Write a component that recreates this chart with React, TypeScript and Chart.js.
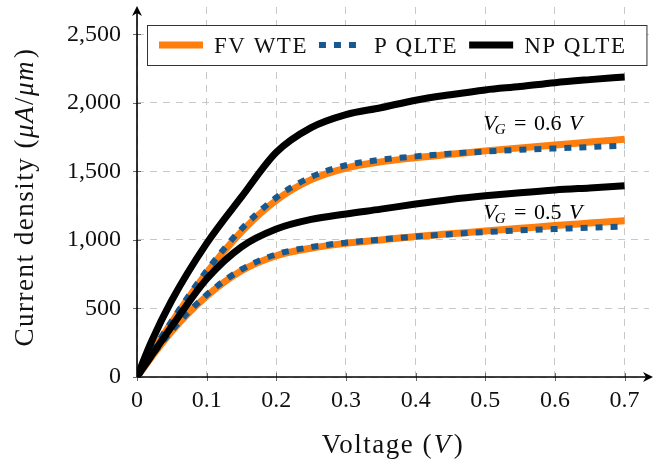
import React, { useEffect, useRef } from 'react';
import { Chart, registerables } from 'chart.js';

Chart.register(...registerables);

// ---- data ----
const VOLTAGE = [0, 0.02, 0.05, 0.1, 0.15, 0.2, 0.25, 0.3, 0.35, 0.4, 0.45, 0.5, 0.55, 0.6, 0.65, 0.7];

const FV_WTE_06 = [0, 165, 400, 760, 1060, 1290, 1440, 1525, 1570, 1600, 1625, 1650, 1672, 1693, 1715, 1735];
const P_QLTE_06 = [0, 170, 410, 775, 1080, 1310, 1460, 1545, 1585, 1610, 1630, 1645, 1658, 1668, 1678, 1688];
const NP_QLTE_06 = [0, 250, 560, 975, 1314, 1640, 1820, 1915, 1965, 2020, 2060, 2095, 2120, 2148, 2170, 2190];

const FV_WTE_05 = [0, 140, 335, 590, 775, 885, 940, 975, 1000, 1025, 1045, 1065, 1085, 1105, 1123, 1141];
const P_QLTE_05 = [0, 145, 340, 600, 785, 895, 948, 980, 1003, 1025, 1042, 1058, 1070, 1080, 1090, 1097];
const NP_QLTE_05 = [0, 150, 370, 715, 950, 1080, 1150, 1190, 1225, 1262, 1295, 1322, 1345, 1365, 1380, 1395];

const X_TICKS = [0, 0.1, 0.2, 0.3, 0.4, 0.5, 0.6, 0.7];
const X_TICK_LABELS = ['0', '0.1', '0.2', '0.3', '0.4', '0.5', '0.6', '0.7'];
const Y_TICKS = [0, 500, 1000, 1500, 2000, 2500];
const Y_TICK_LABELS = ['0', '500', '1,000', '1,500', '2,000', '2,500'];

const SERIES_NAMES = ['FV WTE', 'P QLTE', 'NP QLTE'];
const ANNOT_GATE = ['0.6', '0.5'];
const ANNOT_X = [0.5, 0.5];
const ANNOT_Y = [1805, 1150];

const X_MAX = 0.735;
const Y_MAX = 2700;

const FONT = "'Liberation Serif', 'DejaVu Serif', serif";
const ORANGE = '#ff7f0e';
const BLUE = '#17598f';
const BLACK = '#000000';

const pts = (arr: number[]) => VOLTAGE.map((v, i) => ({ x: v, y: arr[i] }));

type Part = { t: string; f: string; dy?: number; dx?: number };

function drawParts(ctx: any, parts: Part[], x: number, y: number, spacing: string, align: 'left' | 'center') {
  ctx.save();
  ctx.letterSpacing = spacing;
  ctx.textAlign = 'left';
  ctx.textBaseline = 'alphabetic';
  const widths = parts.map((p) => {
    ctx.font = p.f;
    return ctx.measureText(p.t).width + (p.dx || 0);
  });
  const total = widths.reduce((a, b) => a + b, 0);
  let cx = align === 'center' ? x - total / 2 : x;
  parts.forEach((p, i) => {
    ctx.font = p.f;
    ctx.fillText(p.t, cx + (p.dx || 0), y + (p.dy || 0));
    cx += widths[i];
  });
  ctx.restore();
  return total;
}

const overlay = {
  id: 'overlay',
  beforeDatasetsDraw(chart: any) {
    const ctx = chart.ctx;
    const xs = chart.scales.x;
    const ys = chart.scales.y;
    const x0 = xs.getPixelForValue(0);
    const y0 = ys.getPixelForValue(0);
    ctx.save();
    ctx.strokeStyle = '#6a6a6a';
    ctx.lineWidth = 1;
    ctx.beginPath();
    X_TICKS.forEach((v) => {
      const px = Math.round(xs.getPixelForValue(v)) + 0.5;
      ctx.moveTo(px, y0 - 4);
      ctx.lineTo(px, y0 + 4);
    });
    Y_TICKS.forEach((v) => {
      const py = Math.round(ys.getPixelForValue(v)) + 0.5;
      ctx.moveTo(x0 - 4, py);
      ctx.lineTo(x0 + 4, py);
    });
    ctx.stroke();
    ctx.strokeStyle = '#000';
    ctx.fillStyle = '#000';
    ctx.lineWidth = 1.6;
    const xEnd = chart.chartArea.right + 4;
    const yEnd = chart.chartArea.top - 1;
    ctx.beginPath();
    ctx.moveTo(x0, y0);
    ctx.lineTo(xEnd - 3, y0);
    ctx.moveTo(x0, y0);
    ctx.lineTo(x0, yEnd + 3);
    ctx.stroke();
    ctx.beginPath();
    ctx.moveTo(xEnd, y0);
    ctx.lineTo(xEnd - 10, y0 - 5);
    ctx.lineTo(xEnd - 7, y0);
    ctx.lineTo(xEnd - 10, y0 + 5);
    ctx.closePath();
    ctx.fill();
    ctx.beginPath();
    ctx.moveTo(x0, yEnd);
    ctx.lineTo(x0 - 5, yEnd + 10);
    ctx.lineTo(x0, yEnd + 7);
    ctx.lineTo(x0 + 5, yEnd + 10);
    ctx.closePath();
    ctx.fill();
    ctx.restore();
  },
  afterDatasetsDraw(chart: any) {
    const ctx = chart.ctx;
    const xs = chart.scales.x;
    const ys = chart.scales.y;

    ctx.save();
    ctx.fillStyle = '#000';
    ANNOT_GATE.forEach((g, i) => {
      const ax = xs.getPixelForValue(ANNOT_X[i]) - 2;
      const ay = ys.getPixelForValue(ANNOT_Y[i]);
      const it = `italic 22px ${FONT}`;
      const up = `22px ${FONT}`;
      drawParts(ctx, [
        { t: 'V', f: it },
        { t: 'G', f: `italic 15px ${FONT}`, dy: 4, dx: -2 },
        { t: ' = ', f: up, dx: 3 },
        { t: g, f: up, dx: 2 },
        { t: ' ', f: up },
        { t: 'V', f: it, dx: 2 },
      ], ax, ay, '0px', 'left');
    });
    ctx.restore();

    ctx.save();
    const ds = chart.data.datasets.slice(0, 3);
    const legFont = `23px ${FONT}`;
    ctx.font = legFont;
    ctx.letterSpacing = '1.5px';
    const boxL = 147;
    const boxT = 25;
    const boxH = 40;
    const midY = boxT + boxH / 2;
    let cx = boxL + 12;
    const items: any[] = [];
    ds.forEach((d: any, i: number) => {
      const w = ctx.measureText(SERIES_NAMES[i]).width;
      items.push({ d, sx: cx, tx: cx + 55, w });
      cx = cx + 55 + w + 11;
    });
    const boxR = cx + 9;
    ctx.fillStyle = '#fff';
    ctx.fillRect(boxL, boxT, boxR - boxL, boxH);
    ctx.strokeStyle = '#333';
    ctx.lineWidth = 1;
    ctx.strokeRect(boxL + 0.5, boxT + 0.5, boxR - boxL, boxH);
    items.forEach((it: any, i: number) => {
      ctx.save();
      ctx.strokeStyle = it.d.borderColor;
      ctx.lineWidth = it.d.borderWidth;
      ctx.setLineDash(it.d.borderDash || []);
      ctx.beginPath();
      ctx.moveTo(it.sx, midY);
      ctx.lineTo(it.sx + 44, midY);
      ctx.stroke();
      ctx.restore();
      ctx.fillStyle = '#111';
      ctx.textBaseline = 'alphabetic';
      ctx.textAlign = 'left';
      ctx.font = legFont;
      ctx.fillText(SERIES_NAMES[i], it.tx, midY + 7.5);
    });
    ctx.restore();
  },
  afterDraw(chart: any) {
    const ctx = chart.ctx;
    const area = chart.chartArea;
    ctx.save();
    ctx.fillStyle = '#111';
    const up = `27px ${FONT}`;
    const it = `italic 27px ${FONT}`;
    drawParts(ctx, [
      { t: 'Voltage (', f: up },
      { t: 'V', f: it, dx: 1 },
      { t: ')', f: up, dx: 2 },
    ], (area.left + area.right) / 2, 453, '1.5px', 'center');
    ctx.translate(33, 197);
    ctx.rotate(-Math.PI / 2);
    drawParts(ctx, [
      { t: 'Current density (', f: up },
      { t: 'μA', f: it },
      { t: '/', f: up },
      { t: 'μm', f: it },
      { t: ')', f: up, dx: 2 },
    ], 0, 0, '1.5px', 'center');
    ctx.restore();
  },
};

function mkLine(label: string, arr: number[], color: string, width: number, order: number, dash?: number[]) {
  return {
    label,
    data: pts(arr),
    borderColor: color,
    backgroundColor: color,
    borderWidth: width,
    borderDash: dash || [],
    order,
    pointRadius: 0,
    fill: false,
    cubicInterpolationMode: 'monotone' as const,
    borderCapStyle: 'butt' as const,
    borderJoinStyle: 'round' as const,
  };
}

export default function App() {
  const ref = useRef<HTMLCanvasElement | null>(null);
  useEffect(() => {
    if (!ref.current) return;
    const chart = new Chart(ref.current, {
      type: 'line',
      data: {
        datasets: [
          mkLine(SERIES_NAMES[0], FV_WTE_06, ORANGE, 7, 3),
          mkLine(SERIES_NAMES[1], P_QLTE_06, BLUE, 6, 2, [7, 8]),
          mkLine(SERIES_NAMES[2], NP_QLTE_06, BLACK, 7, 1),
          mkLine(SERIES_NAMES[0] + ' 0.5', FV_WTE_05, ORANGE, 7, 3),
          mkLine(SERIES_NAMES[1] + ' 0.5', P_QLTE_05, BLUE, 6, 2, [7, 8]),
          mkLine(SERIES_NAMES[2] + ' 0.5', NP_QLTE_05, BLACK, 7, 1),
        ],
      },
      options: {
        responsive: false,
        devicePixelRatio: 1,
        animation: false,
        layout: { padding: { top: 7, right: 16, left: 0, bottom: 0 } },
        plugins: {
          legend: { display: false },
          tooltip: { enabled: false },
          title: { display: false },
        },
        scales: {
          x: {
            type: 'linear',
            min: 0,
            max: X_MAX,
            afterFit: (s: any) => { s.height = 87; s.paddingLeft = 0; s.paddingRight = 0; },
            afterBuildTicks: (s: any) => { s.ticks = X_TICKS.map((v) => ({ value: v })); },
            ticks: {
              color: '#111',
              font: { family: FONT, size: 24 },
              padding: 9,
              maxRotation: 0,
              autoSkip: false,
              callback: (_v: any, i: number) => X_TICK_LABELS[i],
            },
            grid: { color: '#c8c8c8', lineWidth: 1, drawTicks: false },
            border: { display: false, dash: [7, 6] },
          },
          y: {
            type: 'linear',
            min: 0,
            max: Y_MAX,
            afterFit: (s: any) => { s.width = 137; s.paddingTop = 0; s.paddingBottom = 0; },
            afterBuildTicks: (s: any) => { s.ticks = Y_TICKS.map((v) => ({ value: v })); },
            ticks: {
              color: '#111',
              font: { family: FONT, size: 24 },
              padding: 16,
              autoSkip: false,
              callback: (_v: any, i: number) => Y_TICK_LABELS[i],
            },
            grid: { color: '#c8c8c8', lineWidth: 1, drawTicks: false },
            border: { display: false, dash: [7, 6] },
          },
        },
      },
      plugins: [overlay as any],
    });
    return () => chart.destroy();
  }, []);
  return (
    <div style={{ position: 'absolute', left: 0, top: 0, width: 665, height: 464, background: '#fff' }}>
      <canvas ref={ref} width={665} height={464} style={{ display: 'block' }} />
    </div>
  );
}
